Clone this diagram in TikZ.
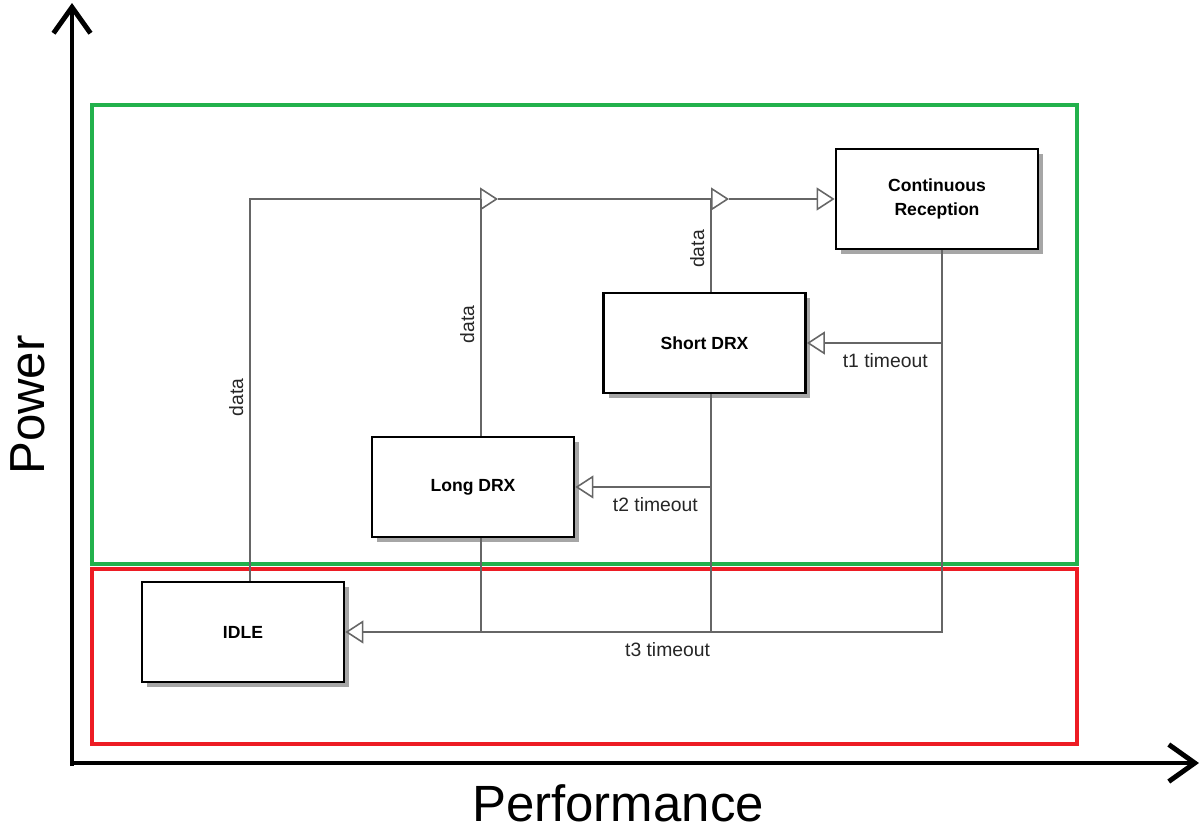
\documentclass[tikz,border=0pt]{standalone}
\usepackage{fontspec}
\setmainfont{Liberation Sans}
\usetikzlibrary{arrows.meta,shadows}

\definecolor{zonegreen}{RGB}{34,177,76}
\definecolor{zonered}{RGB}{237,28,36}

\begin{document}
\begin{tikzpicture}[x=0.02cm, y=-0.02cm,
  state/.style={draw, line width=1.6pt, fill=white, minimum width=4.04cm, minimum height=2cm,
    align=center, font=\fontsize{10}{13.5}\selectfont\bfseries,
    drop shadow={shadow xshift=0.1cm, shadow yshift=-0.1cm, fill=black!35, opacity=1}},
  link/.style={draw=black!60, line width=0.9pt},
  flow/.style={link, -{Triangle[open, length=0.36cm, width=0.46cm]}},
  lbl/.style={font=\fontsize{11}{13}\selectfont, text=black!85},
  axis/.style={line width=2.8pt, -{Straight Barb[length=0.52cm, width=0.74cm]}},
  zone/.style={line width=0.08cm}]
\useasboundingbox (0,0) rectangle (1203,832);

% Power zones
\draw[zone, zonegreen] (92,105) rectangle (1077,564);
\draw[zone, zonered] (92,569) rectangle (1077,744);

% Axes
\draw[axis] (72,766) -- (72,3);
\draw[axis] (70,763) -- (1199,763);
\node[font=\fontsize{28}{30}\selectfont, rotate=90] (power) at (28,405) {Power};
\node[font=\fontsize{29}{31}\selectfont] (perf) at (618,803) {Performance};

% States
\node[state] (cr) at (937,199) {Continuous\\Reception};
\node[state] (sdrx) at (704.5,343) {Short DRX};
\node[state] (ldrx) at (473,487) {Long DRX};
\node[state] (idle) at (243,632) {IDLE};

% Junctions on the data line
\coordinate (m1) at (498,199);
\coordinate (m2) at (729,199);
\coordinate (it) at ([xshift=0.14cm]idle.north);
\coordinate (lt) at ([xshift=0.16cm]ldrx.north);
\coordinate (st) at ([xshift=0.13cm]sdrx.north);
\coordinate (cb) at ([xshift=0.1cm]cr.south);
\coordinate (sb) at ([xshift=0.13cm]sdrx.south);
\coordinate (lb) at ([xshift=0.16cm]ldrx.south);

% data transitions
\draw[flow] (it) |- node[lbl, pos=0.24, rotate=90, above] {data} (m1);
\draw[link] (lt) -- node[lbl, pos=0.47, rotate=90, above] {data} (lt |- m1);
\draw[flow] (m1) -- (m2);
\draw[link] (st) -- node[lbl, pos=0.46, rotate=90, above] {data} (st |- m2);
\draw[flow] (m2) -- (cr.west);

% timeout transitions
\draw[flow] (cb) |- node[lbl, pos=0.73, below=2pt] {t3 timeout} (idle.east);
\draw[flow] (cb |- sdrx.east) -- node[lbl, pos=0.42, below=2pt] {t1 timeout} (sdrx.east);
\draw[link] (sb) -- (sb |- idle.east);
\draw[flow] (sb |- ldrx.east) -- node[lbl, pos=0.41, below=2pt] {t2 timeout} (ldrx.east);
\draw[link] (lb) -- (lb |- idle.east);

\end{tikzpicture}
\end{document}
